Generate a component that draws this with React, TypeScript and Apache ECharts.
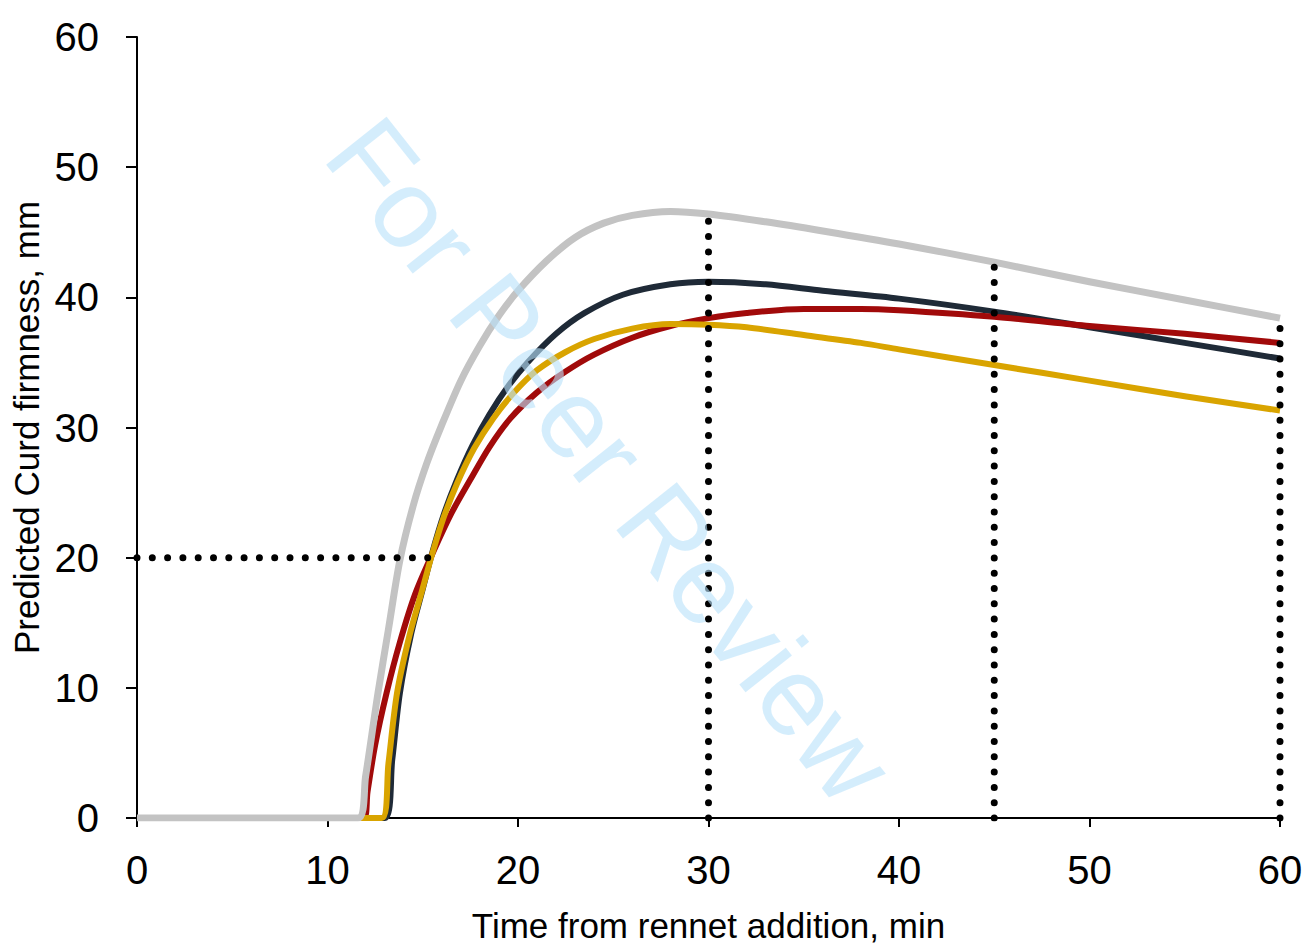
import React, { useEffect, useRef } from "react";
import * as echarts from "echarts";

const xTicks = [0, 10, 20, 30, 40, 50, 60];
const yTicks = [0, 10, 20, 30, 40, 50, 60];

const grayCurve: [number, number][] = [
  [0, 0], [11.6, 0], [12.0, 3.2], [12.65, 9.6], [13.2, 14.5], [13.8, 19.8], [14.5, 24.0],
  [15.2, 27.2], [16.0, 30.2], [17.0, 33.6], [18.0, 36.3], [19.0, 38.6], [20, 40.5], [21.5, 42.8],
  [23, 44.6], [24.5, 45.7], [26, 46.3], [28, 46.6], [30, 46.4], [33, 45.8], [36, 45.1],
  [40, 44.1], [45, 42.7], [50, 41.2], [55, 39.8], [60, 38.4],
];

const darkCurve: [number, number][] = [
  [0, 0], [13.0, 0], [13.4, 4.5], [13.8, 9.6], [14.4, 14.2], [15.0, 17.6], [15.5, 20.4],
  [16.1, 23.3], [16.8, 26.0], [17.6, 28.6], [18.5, 31.0], [19.5, 33.2], [20.5, 35.0],
  [22, 37.2], [23.5, 38.8], [25.5, 40.2], [28, 41.0], [30, 41.2], [33, 41.0], [36, 40.5],
  [40, 39.9], [45, 38.9], [50, 37.7], [55, 36.5], [60, 35.3],
];

const redCurve: [number, number][] = [
  [0, 0], [11.9, 0], [12.1, 2.0], [12.5, 5.6], [13.1, 9.6], [13.8, 13.5], [14.6, 17.2],
  [15.6, 20.6], [16.5, 23.4], [17.5, 26.0], [18.5, 28.5], [19.6, 30.7], [21, 32.7], [22.5, 34.3],
  [24, 35.6], [26, 36.9], [28, 37.8], [30, 38.4], [32, 38.8], [35, 39.1], [38, 39.1],
  [40, 39.0], [45, 38.5], [50, 37.8], [55, 37.2], [60, 36.5],
];

const yellowCurve: [number, number][] = [
  [0, 0], [12.85, 0], [13.2, 4.2], [13.65, 9.6], [14.3, 14.0], [14.95, 17.4], [15.5, 20.3],
  [16.1, 23.1], [16.8, 25.7], [17.7, 28.4], [18.7, 30.7], [19.8, 32.7], [21.0, 34.4],
  [22.5, 35.8], [24, 36.8], [26, 37.6], [28, 37.95], [30, 37.9], [32, 37.7], [35, 37.1],
  [38, 36.5], [40, 36.0], [45, 34.8], [50, 33.6], [55, 32.4], [60, 31.3],
];

const refH: [number, number][] = [[0, 20], [16, 20]];
const ref30: [number, number][] = [[30, 0], [30, 46.6]];
const ref45: [number, number][] = [[45, 0], [45, 42.8]];
const ref60: [number, number][] = [[60, 0], [60, 38.5]];

const FONT = "'Liberation Sans Narrow', 'Arial Narrow', 'Liberation Sans', Arial, sans-serif";

export default function App() {
  const ref = useRef<HTMLDivElement>(null);
  useEffect(() => {
    if (!ref.current) return;
    const chart = echarts.init(ref.current, undefined, { renderer: "svg" });
    const curve = (name: string, data: [number, number][], color: string, width: number, z: number) => ({
      name,
      type: "line",
      data,
      smooth: 0.3,
      showSymbol: false,
      symbol: "none",
      lineStyle: { color, width, cap: "butt", join: "round" },
      z,
    });
    const dotted = (data: [number, number][]) => ({
      type: "line",
      data,
      showSymbol: false,
      symbol: "none",
      lineStyle: { color: "#000", width: 7, type: [0, 15.3], cap: "round" },
      z: 10,
    });
    chart.setOption({
      animation: false,
      backgroundColor: "#fff",
      grid: { left: 137, right: 22, top: 37, bottom: 129, containLabel: false, outerBoundsMode: "none" },
      xAxis: {
        type: "value",
        min: 0,
        max: 60,
        interval: 10,
        name: "Time from rennet addition, min",
        nameLocation: "middle",
        nameGap: 90,
        nameTextStyle: { fontFamily: FONT, fontSize: 35, color: "#000" },
        axisLine: { show: true, lineStyle: { color: "#000", width: 2 } },
        axisTick: { show: true, inside: false, length: 9, lineStyle: { color: "#000", width: 2 } },
        axisLabel: {
          fontFamily: FONT, fontSize: 40, color: "#000", margin: 32,
          formatter: (v: number) => (xTicks.includes(v) ? String(v) : ""),
        },
        splitLine: { show: false },
      },
      yAxis: {
        type: "value",
        min: 0,
        max: 60,
        interval: 10,
        name: "Predicted Curd firmness, mm",
        nameLocation: "middle",
        nameGap: 93,
        nameTextStyle: { fontFamily: FONT, fontSize: 35, color: "#000" },
        axisLine: { show: true, lineStyle: { color: "#000", width: 2 } },
        axisTick: { show: true, inside: false, length: 11, lineStyle: { color: "#000", width: 2 } },
        axisLabel: {
          fontFamily: FONT, fontSize: 40, color: "#000", margin: 38,
          formatter: (v: number) => (yTicks.includes(v) ? String(v) : ""),
        },
        splitLine: { show: false },
      },
      graphic: [
        {
          type: "text",
          x: 610,
          y: 460,
          rotation: -0.9,
          z: 100,
          silent: true,
          style: {
            text: "For Peer Review",
            font: "112px 'Liberation Sans', Arial, sans-serif",
            fill: "rgba(185, 226, 250, 0.62)",
            align: "center",
            verticalAlign: "middle",
          },
        },
      ],
      series: [
        curve("dark", darkCurve, "#1f2a37", 6, 2),
        curve("red", redCurve, "#a10a0a", 6, 3),
        curve("yellow", yellowCurve, "#d9a400", 6, 4),
        curve("gray", grayCurve, "#c3c3c3", 7, 5),
        dotted(refH),
        dotted(ref30),
        dotted(ref45),
        dotted(ref60),
      ],
    });
    return () => chart.dispose();
  }, []);
  return (
    <div
      ref={ref}
      style={{ position: "fixed", left: 0, top: 0, width: 1302, height: 947, background: "#fff" }}
    />
  );
}
